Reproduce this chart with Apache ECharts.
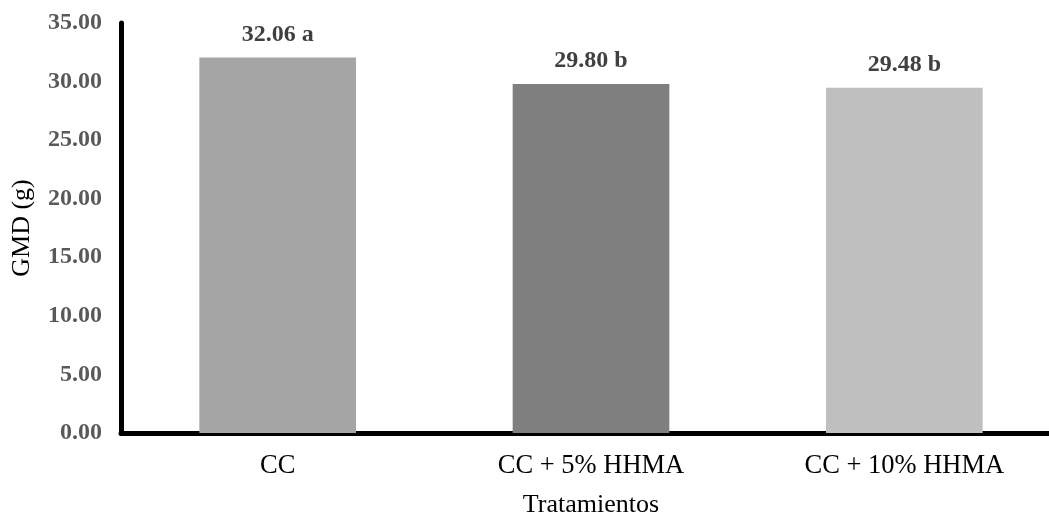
<!DOCTYPE html>
<html>
<head>
<meta charset="utf-8">
<script src="https://cdn.jsdelivr.net/npm/echarts@6/dist/echarts.min.js"></script>
<style>
html,body{margin:0;padding:0;background:#fff;}
#chart{width:1049px;height:512px;}
</style>
</head>
<body>
<div id="chart"></div>
<script>
const categories = ['CC', 'CC + 5% HHMA', 'CC + 10% HHMA'];
const values = [32.06, 29.80, 29.48];
const letters = ['a', 'b', 'b'];
const barColors = ['#a5a5a5', '#7f7f7f', '#bfbfbf'];
const yTicks = [0, 5, 10, 15, 20, 25, 30, 35];

const chart = echarts.init(document.getElementById('chart'));
const font = '"Liberation Serif", "Times New Roman", serif';
chart.setOption({
  animation: false,
  grid: { left: 121, top: 23, width: 940, height: 410, containLabel: false, outerBoundsMode: 'none' },
  xAxis: {
    type: 'category',
    data: categories,
    name: 'Tratamientos',
    nameLocation: 'middle',
    nameGap: 59,
    nameTextStyle: { fontFamily: font, fontSize: 26, color: '#000' },
    axisLine: { show: true, lineStyle: { color: '#000', width: 5 } },
    axisTick: { show: false },
    axisLabel: { fontFamily: font, fontSize: 26.5, color: '#000', margin: 20 },
    splitLine: { show: false }
  },
  yAxis: {
    type: 'value',
    min: yTicks[0],
    max: yTicks[yTicks.length - 1],
    interval: 5,
    name: 'GMD (g)',
    nameLocation: 'middle',
    nameGap: 86,
    nameRotate: 90,
    nameTextStyle: { fontFamily: font, fontSize: 26, color: '#000' },
    axisLine: { show: true, lineStyle: { color: '#000', width: 5 } },
    axisTick: { show: false },
    splitLine: { show: false },
    axisLabel: {
      fontFamily: font, fontSize: 24, fontWeight: 'bold', color: '#595959', margin: 19,
      formatter: v => v.toFixed(2)
    }
  },
  series: [{
    type: 'bar',
    barWidth: '50%',
    data: values.map((v, i) => ({ value: v, itemStyle: { color: barColors[i] } })),
    label: {
      show: true,
      position: 'top',
      distance: 11,
      fontFamily: font,
      fontSize: 24,
      fontWeight: 'bold',
      color: '#404040',
      formatter: p => p.value.toFixed(2) + ' ' + letters[p.dataIndex]
    }
  }]
});
</script>
</body>
</html>
